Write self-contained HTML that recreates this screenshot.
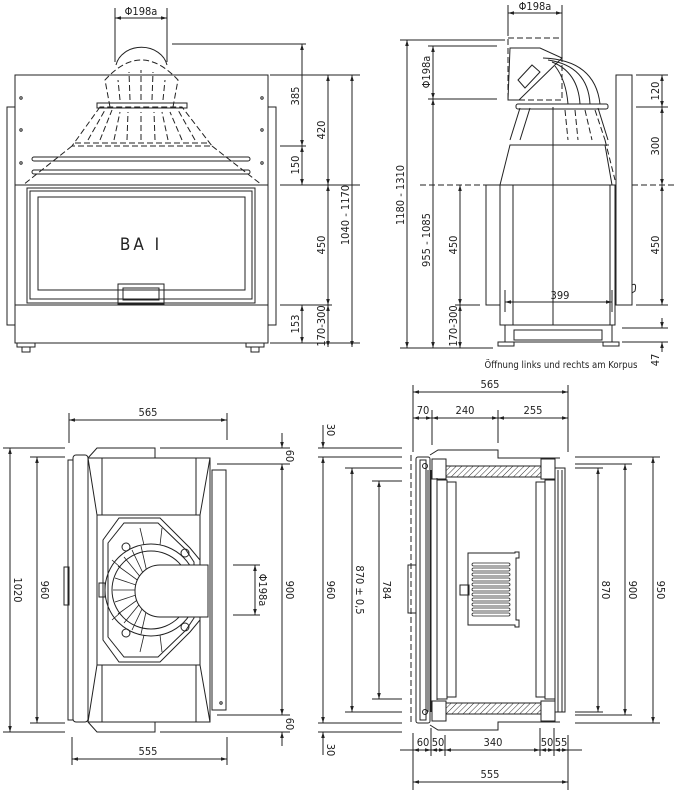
<!DOCTYPE html>
<html><head><meta charset="utf-8"><style>
html,body{margin:0;padding:0;background:#fff;}
svg{display:block}
text{font-family:"DejaVu Sans Condensed","Liberation Sans",sans-serif;font-size:11px;fill:#222}
</style></head><body>
<svg width="676" height="800" viewBox="0 0 676 800" xmlns="http://www.w3.org/2000/svg">
<defs>
<marker id="a" viewBox="0 0 10 10" refX="10" refY="5" markerWidth="6" markerHeight="6" orient="auto-start-reverse"><path d="M0,2 L10,5 L0,8z" fill="#222"/></marker>
<pattern id="h" width="4" height="4" patternUnits="userSpaceOnUse" patternTransform="rotate(45)"><line x1="0" y1="0" x2="0" y2="4" stroke="#333" stroke-width="1"/></pattern>
</defs>
<g fill="none" stroke="#222" stroke-width="1">
<!-- ===== TOP LEFT front view ===== -->
<rect x="7" y="107" width="8" height="218"/>
<rect x="268" y="107" width="8" height="218"/>
<rect x="15" y="75" width="253" height="268"/>
<line x1="15" y1="185" x2="268" y2="185"/>
<line x1="15" y1="305" x2="268" y2="305"/>
<rect x="27" y="188" width="228" height="115"/>
<rect x="30" y="191" width="222" height="108"/>
<rect x="38" y="197" width="207" height="93"/>
<rect x="118" y="284" width="46" height="20"/>
<rect x="123" y="288" width="36" height="12"/>
<rect x="32" y="157" width="218" height="4" rx="2"/>
<rect x="32" y="170" width="218" height="4" rx="2"/>
<circle cx="21" cy="98" r="1.2"/><circle cx="21" cy="130" r="1.2"/><circle cx="21" cy="163" r="1.2"/>
<circle cx="262" cy="98" r="1.2"/><circle cx="262" cy="130" r="1.2"/><circle cx="262" cy="163" r="1.2"/>
<path d="M116,65 A26,22 0 0 1 167,65"/>
<g stroke-dasharray="6,3">
<path d="M110,107 L105,80 Q141,40 178,80 L173,107"/>
<path d="M100,107 L72,146 L212,146 L182,107 Z"/>
<path d="M72,146 L23,185 M212,146 L262,185"/>
<line x1="75" y1="143" x2="210" y2="143"/>
<path d="M120,100 L118,80 M130,100 L129,72 M141,100 L141,70 M152,100 L153,72 M163,100 L165,80"/>
<path d="M88,140 L105,110 M100,140 L112,110 M114,140 L120,112 M127,140 L128,112 M141,140 L141,112 M155,140 L154,112 M168,140 L162,112 M182,140 L170,112 M195,140 L178,110"/>
</g>
<rect x="97" y="103" width="90" height="5"/>
<rect x="17" y="343" width="18" height="4"/><rect x="22" y="347" width="8" height="5"/>
<rect x="246" y="343" width="18" height="4"/><rect x="251" y="347" width="8" height="5"/>
<!-- dims TL -->
<line x1="115" y1="8" x2="115" y2="62"/><line x1="167" y1="8" x2="167" y2="62"/>
<line x1="115" y1="18" x2="167" y2="18" marker-start="url(#a)" marker-end="url(#a)"/>
<line x1="172" y1="44" x2="306" y2="44"/>
<line x1="270" y1="75" x2="360" y2="75"/>
<line x1="280" y1="146" x2="306" y2="146"/>
<line x1="280" y1="185" x2="360" y2="185"/>
<line x1="280" y1="305" x2="332" y2="305"/>
<line x1="270" y1="343" x2="360" y2="343"/>
<line x1="302" y1="44" x2="302" y2="146" marker-start="url(#a)" marker-end="url(#a)"/>
<line x1="302" y1="146" x2="302" y2="185" marker-start="url(#a)" marker-end="url(#a)"/>
<line x1="302" y1="305" x2="302" y2="343" marker-start="url(#a)" marker-end="url(#a)"/>
<line x1="328" y1="75" x2="328" y2="185" marker-start="url(#a)" marker-end="url(#a)"/>
<line x1="328" y1="185" x2="328" y2="305" marker-start="url(#a)" marker-end="url(#a)"/>
<line x1="328" y1="305" x2="328" y2="347" marker-start="url(#a)" marker-end="url(#a)"/>
<line x1="352" y1="75" x2="352" y2="347" marker-start="url(#a)" marker-end="url(#a)"/>

<!-- ===== TOP RIGHT side view ===== -->
<rect x="616" y="75" width="16" height="230"/>
<rect x="486" y="185" width="14" height="120"/>
<rect x="500" y="185" width="115" height="140"/>
<line x1="513" y1="185" x2="513" y2="325"/><line x1="610" y1="185" x2="610" y2="325"/>
<line x1="553" y1="107" x2="553" y2="325"/>
<path d="M500,185 L510,145 L605,145 L612,185"/>
<path d="M505,325 L505,342 L612,342 L612,325"/>
<rect x="514" y="330" width="88" height="10"/>
<rect x="498" y="342" width="16" height="4"/><rect x="603" y="342" width="16" height="4"/>
<rect x="516" y="104" width="92" height="5" rx="2"/>
<path d="M543,58 Q595,60 600,104 M548,60 Q588,66 590,104 M552,62 Q578,72 580,104 M555,66 Q566,80 568,104"/>
<path d="M510,48 L540,48 L562,58 L519,100 L508,100 Z"/>
<path d="M518,80 L532,65 L540,72 L525,88 Z"/>
<path d="M520,108 L510,140 M530,108 L520,140 M598,108 L608,140"/>
<g stroke-dasharray="6,3">
<rect x="508" y="38" width="54" height="62"/>
<line x1="420" y1="185" x2="486" y2="185"/><line x1="632" y1="185" x2="676" y2="185"/>
<line x1="540" y1="145" x2="610" y2="145"/>
<path d="M565,110 L568,140 M575,110 L578,140 M585,110 L592,140 M595,110 L605,140 M605,140 L615,180"/>
</g>
<path d="M632,285 q5,-3 3,6 l-3,2"/>
<!-- dims TR -->
<line x1="508" y1="5" x2="508" y2="36"/><line x1="562" y1="5" x2="562" y2="56"/>
<line x1="508" y1="13" x2="562" y2="13" marker-start="url(#a)" marker-end="url(#a)"/>
<line x1="400" y1="40" x2="505" y2="40"/>
<line x1="428" y1="46" x2="497" y2="46"/>
<line x1="428" y1="99" x2="497" y2="99"/>
<line x1="400" y1="348" x2="493" y2="348"/>
<line x1="455" y1="305" x2="480" y2="305"/>
<line x1="407" y1="40" x2="407" y2="348" marker-start="url(#a)" marker-end="url(#a)"/>
<line x1="433" y1="46" x2="433" y2="99" marker-start="url(#a)" marker-end="url(#a)"/>
<line x1="433" y1="99" x2="433" y2="348" marker-start="url(#a)" marker-end="url(#a)"/>
<line x1="460" y1="185" x2="460" y2="305" marker-start="url(#a)" marker-end="url(#a)"/>
<line x1="460" y1="305" x2="460" y2="348" marker-start="url(#a)" marker-end="url(#a)"/>
<line x1="505" y1="290" x2="505" y2="312"/><line x1="612" y1="290" x2="612" y2="312"/>
<line x1="505" y1="302" x2="612" y2="302" marker-start="url(#a)" marker-end="url(#a)"/>
<line x1="636" y1="75" x2="668" y2="75"/>
<line x1="636" y1="107" x2="668" y2="107"/>
<line x1="636" y1="305" x2="668" y2="305"/>
<line x1="622" y1="328" x2="668" y2="328"/>
<line x1="622" y1="342" x2="668" y2="342"/>
<line x1="662" y1="75" x2="662" y2="107" marker-start="url(#a)" marker-end="url(#a)"/>
<line x1="662" y1="107" x2="662" y2="185" marker-start="url(#a)" marker-end="url(#a)"/>
<line x1="662" y1="185" x2="662" y2="305" marker-start="url(#a)" marker-end="url(#a)"/>
<line x1="662" y1="318" x2="662" y2="328" marker-end="url(#a)"/>
<line x1="662" y1="352" x2="662" y2="342" marker-end="url(#a)"/>

<!-- ===== BOTTOM LEFT top view ===== -->
<rect x="68" y="460" width="5" height="260"/>
<rect x="73" y="455" width="15" height="267" rx="3"/>
<rect x="64" y="567" width="5" height="38"/>
<path d="M88,458 L97,448 L155,448 L155,458 L210,458 L210,722 L155,722 L155,732 L97,732 L88,722 Z"/>
<line x1="88" y1="458" x2="210" y2="458"/><line x1="88" y1="722" x2="210" y2="722"/>
<path d="M88,458 L97,515 L97,665 L88,722"/><path d="M210,458 L200,515 L200,665 L210,722"/>
<line x1="102" y1="458" x2="102" y2="515"/><line x1="196" y1="458" x2="196" y2="515"/>
<line x1="102" y1="665" x2="102" y2="722"/><line x1="196" y1="665" x2="196" y2="722"/>
<line x1="97" y1="515" x2="200" y2="515"/><line x1="97" y1="665" x2="200" y2="665"/>
<rect x="212" y="470" width="14" height="240"/>
<circle cx="221" cy="703" r="1.2"/>
<path d="M119,518 L160,518 L190,548 L200,560 L200,620 L190,632 L160,662 L119,662 L103,640 L103,540 Z"/>
<path d="M124,523 L158,523 L186,550 L194,562 L194,618 L186,630 L158,657 L124,657 L108,637 L108,543 Z"/>
<circle cx="151" cy="590" r="46"/>
<circle cx="151" cy="590" r="39"/>
<g stroke-width="0.8">
<path d="M151,590 L113,590 M151,590 L115,578 M151,590 L118,566 M151,590 L124,557 M151,590 L132,550 M151,590 L141,546 M151,590 L115,602 M151,590 L118,614 M151,590 L124,623 M151,590 L132,630 M151,590 L141,634"/>
<path d="M140,528 L144,545 M162,528 L160,545 M140,652 L144,635 M162,652 L160,635 M112,560 L120,567 M112,620 L120,613"/>
</g>
<path d="M208,565 L160,565 A25,26 0 0 0 160,617 L208,617 Z" fill="#fff"/>
<circle cx="126" cy="547" r="4"/><circle cx="126" cy="633" r="4"/>
<circle cx="185" cy="553" r="4"/><circle cx="185" cy="627" r="4"/>
<rect x="99" y="583" width="6" height="14"/>
<!-- dims BL -->
<line x1="69" y1="413" x2="69" y2="443"/><line x1="227" y1="413" x2="227" y2="440"/>
<line x1="69" y1="420" x2="227" y2="420" marker-start="url(#a)" marker-end="url(#a)"/>
<line x1="72" y1="737" x2="72" y2="765"/><line x1="227" y1="737" x2="227" y2="765"/>
<line x1="72" y1="759" x2="227" y2="759" marker-start="url(#a)" marker-end="url(#a)"/>
<line x1="3" y1="448" x2="65" y2="448"/><line x1="3" y1="732" x2="65" y2="732"/>
<line x1="30" y1="457" x2="65" y2="457"/><line x1="30" y1="723" x2="65" y2="723"/>
<line x1="10" y1="448" x2="10" y2="732" marker-start="url(#a)" marker-end="url(#a)"/>
<line x1="37" y1="457" x2="37" y2="723" marker-start="url(#a)" marker-end="url(#a)"/>
<line x1="160" y1="448" x2="290" y2="448"/>
<line x1="217" y1="464" x2="290" y2="464"/>
<line x1="217" y1="715" x2="290" y2="715"/>
<line x1="160" y1="732" x2="290" y2="732"/>
<line x1="282" y1="433" x2="282" y2="448" marker-end="url(#a)"/>
<line x1="282" y1="464" x2="282" y2="715" marker-start="url(#a)" marker-end="url(#a)"/>
<line x1="282" y1="746" x2="282" y2="732" marker-end="url(#a)"/>
<line x1="233" y1="565" x2="260" y2="565"/><line x1="233" y1="615" x2="260" y2="615"/>
<line x1="255" y1="565" x2="255" y2="615" marker-start="url(#a)" marker-end="url(#a)"/>

<!-- ===== BOTTOM RIGHT section view ===== -->
<path d="M430,455 L438,450 L498,450 L498,458 L560,458" />
<path d="M430,725 L438,730 L498,730 L498,722 L560,722" />
<rect x="416" y="457" width="14" height="266" rx="2"/>
<rect x="420" y="460" width="6" height="260"/>
<line x1="428" y1="470" x2="428" y2="712"/><line x1="431" y1="470" x2="431" y2="712"/>
<line x1="437" y1="478" x2="437" y2="700"/>
<rect x="432" y="459" width="14" height="20"/>
<rect x="432" y="701" width="14" height="20"/>
<rect x="541" y="459" width="14" height="20"/>
<rect x="541" y="701" width="14" height="20"/>
<rect x="446" y="466" width="95" height="11" fill="url(#h)"/>
<rect x="446" y="703" width="95" height="11" fill="url(#h)"/>
<rect x="437" y="480" width="10" height="219"/>
<rect x="447" y="482" width="9" height="215"/>
<rect x="536" y="482" width="9" height="215"/>
<rect x="545" y="480" width="10" height="219"/>
<line x1="558" y1="470" x2="558" y2="712"/><line x1="562" y1="470" x2="562" y2="712"/>
<rect x="555" y="468" width="10" height="244"/>
<rect x="408" y="565" width="8" height="48"/>
<circle cx="425" cy="466" r="2.5"/><circle cx="425" cy="712" r="2.5"/>
<path d="M468,553 L515,553 L515,552 L519,552 L519,558 L516,558 L516,620 L519,620 L519,627 L515,627 L515,625 L468,625 Z"/>
<g stroke-width="0.8">
<rect x="472" y="563" width="38" height="3" rx="1.5"/><rect x="472" y="568" width="38" height="3" rx="1.5"/>
<rect x="472" y="573" width="38" height="3" rx="1.5"/><rect x="472" y="578" width="38" height="3" rx="1.5"/>
<rect x="472" y="583" width="38" height="3" rx="1.5"/><rect x="472" y="588" width="38" height="3" rx="1.5"/>
<rect x="472" y="593" width="38" height="3" rx="1.5"/><rect x="472" y="598" width="38" height="3" rx="1.5"/>
<rect x="472" y="603" width="38" height="3" rx="1.5"/><rect x="472" y="608" width="38" height="3" rx="1.5"/>
<rect x="472" y="613" width="38" height="3" rx="1.5"/>
</g>
<rect x="460" y="585" width="9" height="10"/>
<g stroke-dasharray="6,3"><line x1="411" y1="455" x2="411" y2="725"/></g>
<!-- dims BR -->
<line x1="413" y1="385" x2="413" y2="452"/><line x1="568" y1="385" x2="568" y2="452"/>
<line x1="432" y1="410" x2="432" y2="445"/><line x1="498" y1="410" x2="498" y2="443"/>
<line x1="413" y1="392" x2="568" y2="392" marker-start="url(#a)" marker-end="url(#a)"/>
<line x1="413" y1="418" x2="432" y2="418" marker-start="url(#a)" marker-end="url(#a)"/>
<line x1="432" y1="418" x2="498" y2="418" marker-start="url(#a)" marker-end="url(#a)"/>
<line x1="498" y1="418" x2="568" y2="418" marker-start="url(#a)" marker-end="url(#a)"/>
<line x1="413" y1="733" x2="413" y2="790"/><line x1="431" y1="728" x2="431" y2="756"/>
<line x1="445" y1="735" x2="445" y2="756"/><line x1="540" y1="728" x2="540" y2="756"/>
<line x1="554" y1="728" x2="554" y2="756"/><line x1="568" y1="735" x2="568" y2="790"/>
<line x1="400" y1="750" x2="413" y2="750"/>
<line x1="413" y1="750" x2="431" y2="750" marker-start="url(#a)" marker-end="url(#a)"/>
<line x1="431" y1="750" x2="445" y2="750" marker-start="url(#a)" marker-end="url(#a)"/>
<line x1="445" y1="750" x2="540" y2="750" marker-start="url(#a)" marker-end="url(#a)"/>
<line x1="540" y1="750" x2="554" y2="750" marker-start="url(#a)" marker-end="url(#a)"/>
<line x1="554" y1="750" x2="568" y2="750" marker-start="url(#a)" marker-end="url(#a)"/>
<line x1="568" y1="750" x2="582" y2="750"/>
<line x1="413" y1="782" x2="568" y2="782" marker-start="url(#a)" marker-end="url(#a)"/>
<line x1="318" y1="448" x2="402" y2="448"/><line x1="318" y1="457" x2="402" y2="457"/>
<line x1="318" y1="723" x2="402" y2="723"/><line x1="318" y1="732" x2="402" y2="732"/>
<line x1="345" y1="468" x2="402" y2="468"/><line x1="345" y1="712" x2="402" y2="712"/>
<line x1="372" y1="481" x2="402" y2="481"/><line x1="372" y1="699" x2="402" y2="699"/>
<line x1="323" y1="425" x2="323" y2="448" marker-end="url(#a)"/>
<line x1="323" y1="457" x2="323" y2="723" marker-start="url(#a)" marker-end="url(#a)"/>
<line x1="323" y1="755" x2="323" y2="732" marker-end="url(#a)"/>
<line x1="352" y1="468" x2="352" y2="712" marker-start="url(#a)" marker-end="url(#a)"/>
<line x1="379" y1="481" x2="379" y2="699" marker-start="url(#a)" marker-end="url(#a)"/>
<line x1="575" y1="457" x2="660" y2="457"/><line x1="575" y1="723" x2="660" y2="723"/>
<line x1="575" y1="464" x2="632" y2="464"/><line x1="575" y1="715" x2="632" y2="715"/>
<line x1="575" y1="468" x2="603" y2="468"/><line x1="575" y1="712" x2="603" y2="712"/>
<line x1="598" y1="468" x2="598" y2="712" marker-start="url(#a)" marker-end="url(#a)"/>
<line x1="625" y1="464" x2="625" y2="715" marker-start="url(#a)" marker-end="url(#a)"/>
<line x1="653" y1="457" x2="653" y2="723" marker-start="url(#a)" marker-end="url(#a)"/>
</g>
<!-- ===== TEXT ===== -->
<text x="141" y="15" text-anchor="middle">Φ198a</text>
<text x="141" y="250" text-anchor="middle" style="font-size:17px;letter-spacing:3px">BA I</text>
<g text-anchor="middle">
<text transform="translate(299,96) rotate(-90)">385</text>
<text transform="translate(325,130) rotate(-90)">420</text>
<text transform="translate(299,165) rotate(-90)">150</text>
<text transform="translate(325,245) rotate(-90)">450</text>
<text transform="translate(299,324) rotate(-90)">153</text>
<text transform="translate(325,326) rotate(-90)">170-300</text>
<text transform="translate(349,215) rotate(-90)">1040 - 1170</text>
<text x="535" y="10">Φ198a</text>
<text transform="translate(430,72) rotate(-90)">Φ198a</text>
<text transform="translate(404,195) rotate(-90)">1180 - 1310</text>
<text transform="translate(430,240) rotate(-90)">955 - 1085</text>
<text transform="translate(457,245) rotate(-90)">450</text>
<text transform="translate(457,326) rotate(-90)">170-300</text>
<text x="560" y="299">399</text>
<text transform="translate(659,91) rotate(-90)">120</text>
<text transform="translate(659,146) rotate(-90)">300</text>
<text transform="translate(659,245) rotate(-90)">450</text>
<text transform="translate(659,360) rotate(-90)">47</text>
<text x="561" y="368" style="font-size:9.5px">Öffnung links und rechts am Korpus</text>
<text x="148" y="416">565</text>
<text x="148" y="755">555</text>
<text transform="translate(14,590) rotate(90)">1020</text>
<text transform="translate(41,590) rotate(90)">960</text>
<text transform="translate(286,590) rotate(90)">900</text>
<text transform="translate(286,456) rotate(90)">60</text>
<text transform="translate(286,724) rotate(90)">60</text>
<text transform="translate(259,590) rotate(90)">Φ198a</text>
<text x="490" y="388">565</text>
<text x="423" y="414">70</text>
<text x="465" y="414">240</text>
<text x="533" y="414">255</text>
<text x="423" y="746">60</text>
<text x="438" y="746">50</text>
<text x="493" y="746">340</text>
<text x="547" y="746">50</text>
<text x="561" y="746">55</text>
<text x="490" y="778">555</text>
<text transform="translate(327,590) rotate(90)">960</text>
<text transform="translate(327,430) rotate(90)">30</text>
<text transform="translate(327,750) rotate(90)">30</text>
<text transform="translate(356,590) rotate(90)">870 ± 0,5</text>
<text transform="translate(383,590) rotate(90)">784</text>
<text transform="translate(602,590) rotate(90)">870</text>
<text transform="translate(629,590) rotate(90)">900</text>
<text transform="translate(657,590) rotate(90)">950</text>
</g>
</svg>
</body></html>
